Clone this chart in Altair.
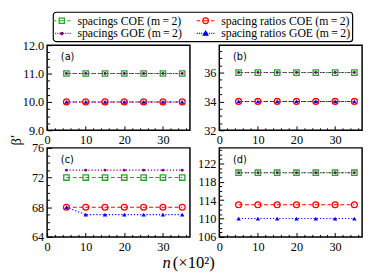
import altair as alt
import numpy as np
import pandas as pd

SERIES = ["spacings COE (m\u2009=\u20092)", "spacing ratios COE (m\u2009=\u20092)",
          "spacings GOE (m\u2009=\u20092)", "spacing ratios GOE (m\u2009=\u20092)"]
COLORS = ["#2ca02c", "#ff0000", "#800080", "#0000ff"]
FILLS = ["transparent", "transparent", "#800080", "#0000ff"]
N = [5, 10, 15, 20, 25, 30, 35]
PANELS = ["(a)", "(b)", "(c)", "(d)"]

# panel (a)
A_SP_COE = [11, 11, 11, 11, 11, 11, 11]
A_SR_COE = [10, 10, 10, 10, 10, 10, 10]
A_SP_GOE = [11, 11, 11, 11, 11, 11, 11]
A_SR_GOE = [10, 10, 10, 10, 10, 10, 10]
# panel (b)
B_SP_COE = [36, 36, 36, 36, 36, 36, 36]
B_SR_COE = [34, 34, 34, 34, 34, 34, 34]
B_SP_GOE = [36, 36, 36, 36, 36, 36, 36]
B_SR_GOE = [34, 34, 34, 34, 34, 34, 34]
# panel (c)
C_SP_COE = [72, 72, 72, 72, 72, 72, 72]
C_SR_COE = [68, 68, 68, 68, 68, 68, 68]
C_SP_GOE = [73, 73, 73, 73, 73, 73, 73]
C_SR_GOE = [68, 67, 67, 67, 67, 67, 67]
# panel (d)
D_SP_COE = [120, 120, 120, 120, 120, 120, 120]
D_SR_COE = [113, 113, 113, 113, 113, 113, 113]
D_SP_GOE = [120, 120, 120, 120, 120, 120, 120]
D_SR_GOE = [110, 110, 110, 110, 110, 110, 110]

VALUES = {
    "(a)": [A_SP_COE, A_SR_COE, A_SP_GOE, A_SR_GOE],
    "(b)": [B_SP_COE, B_SR_COE, B_SP_GOE, B_SR_GOE],
    "(c)": [C_SP_COE, C_SR_COE, C_SP_GOE, C_SR_GOE],
    "(d)": [D_SP_COE, D_SR_COE, D_SP_GOE, D_SR_GOE],
}

Y_DOMAINS = [[9, 12], [32, 37.9], [64, 76], [106, 125.4]]
Y_MAJOR = [[9, 10, 11, 12], [32, 34, 36], [64, 68, 72, 76], [106, 110, 114, 118, 122]]
Y_MINOR = [0.25, 0.5, 1, 1]
Y_FMT = [".1f", "d", "d", "d"]
X_DOMAIN = [0, 37]
X_MAJOR = [0, 10, 20, 30]
X_MINOR = 2

rows = []
for p in PANELS:
    for s, vals in zip(SERIES, VALUES[p]):
        for n, v in zip(N, vals):
            rows.append({"panel": p, "series": s, "n": n, "beta": v})
df = pd.DataFrame(rows)

STYLE = {
    SERIES[0]: dict(dash=[4, 2.5], shape="square", size=30, filled=False),
    SERIES[1]: dict(dash=[4, 2.5], shape="circle", size=36, filled=False),
    SERIES[2]: dict(dash=[1.2, 2], shape="circle", size=9, filled=True),
    SERIES[3]: dict(dash=[1.2, 2], shape="triangle-up", size=20, filled=True),
}

# legend symbols (unit = 6 px; paths reach beyond +-1 to be ~18 px wide)
DASH = "M-1.5,0H-0.95M-0.45,0H0.45M0.95,0H1.5"
DOTS = ("M-1.5,0H-1.33M-1.13,0H-0.96M-0.76,0H-0.59M-0.39,0H-0.28"
        "M0.28,0H0.39M0.59,0H0.76M0.96,0H1.13M1.33,0H1.5")
PATHS = [
    DASH + "M-0.45,-0.45H0.45V0.45H-0.45Z",
    DASH + "M0.48,0A0.48,0.48 0 1 1 -0.48,0A0.48,0.48 0 1 1 0.48,0Z",
    DOTS + "M0.2,0A0.2,0.2 0 1 1 -0.2,0A0.2,0.2 0 1 1 0.2,0Z",
    DOTS + "M0,-0.4L0.4,0.3L-0.4,0.3Z",
]
LEG_ORDER = [0, 2, 1, 3]  # legend fills its columns top to bottom
LEG_DOMAIN = [SERIES[k] for k in LEG_ORDER]

HEIGHTS = [87, 87, 91, 91]
WIDTH = 146


def tick_size(test):
    return {"condition": {"test": test, "value": -4.5}, "value": -2.5}


def x_axis(i):
    vals = list(range(0, 37, X_MINOR))
    test = f"indexof({X_MAJOR}, datum.value) >= 0"
    kw = dict(values=vals, labelExpr=f"{test} ? format(datum.value, 'd') : ''",
              tickSize=tick_size(test), labelPadding=8, labelFlush=False,
              labelOverlap=False, domain=False, grid=False)
    if i == 2:
        kw.update(title="n", titleFontStyle="italic", titleX=126, titleY=18,
                  titleAlign="right", titleBaseline="top", titleFontSize=17)
    elif i == 3:
        kw.update(title="(×10²)", titleX=-48, titleY=18,
                  titleAlign="left", titleBaseline="top", titleFontSize=17)
    else:
        kw.update(title=None)
    return alt.Axis(**kw)


def y_axis(i):
    lo = Y_DOMAINS[i][0]
    vals = [float(v) for v in np.arange(lo, Y_DOMAINS[i][1] + 1e-9, Y_MINOR[i])]
    test = f"indexof({Y_MAJOR[i]}, datum.value) >= 0"
    kw = dict(values=vals, labelExpr=f"{test} ? format(datum.value, '{Y_FMT[i]}') : ''",
              tickSize=tick_size(test), labelPadding=8, labelFlush=False,
              labelOverlap=False, domain=False, grid=False)
    if i == 0:
        kw.update(title="β′", titleX=-24, titleY=96.5, titleAngle=-90,
                  titleAlign="center", titleBaseline="bottom", titleFontSize=15)
    else:
        kw.update(title=None)
    return alt.Axis(**kw)


legend_layer = alt.Chart(pd.DataFrame({"series": SERIES})).mark_point(
    size=144, opacity=1, strokeWidth=1.2
).encode(
    shape=alt.Shape("series:N", scale=alt.Scale(domain=LEG_DOMAIN, range=[PATHS[k] for k in LEG_ORDER]),
                    legend=alt.Legend(title=None)),
    stroke=alt.Stroke("series:N", scale=alt.Scale(domain=LEG_DOMAIN, range=[COLORS[k] for k in LEG_ORDER]),
                      legend=alt.Legend(title=None)),
    fill=alt.Fill("series:N", scale=alt.Scale(domain=LEG_DOMAIN, range=[FILLS[k] for k in LEG_ORDER]),
                  legend=alt.Legend(title=None)),
).transform_filter("false")


def make_panel(i):
    p = PANELS[i]
    d = df[df.panel == p]
    xenc = alt.X("n:Q", scale=alt.Scale(domain=X_DOMAIN, nice=False, zero=False), axis=x_axis(i))
    yenc = alt.Y("beta:Q", scale=alt.Scale(domain=Y_DOMAINS[i], nice=False, zero=False), axis=y_axis(i))
    layers = []
    for s, c in zip(SERIES, COLORS):
        st = STYLE[s]
        layers.append(alt.Chart(d[d.series == s]).mark_line(
            color=c, strokeDash=st["dash"], strokeWidth=1.1).encode(x=xenc, y=yenc))
    for s, c in zip(SERIES, COLORS):
        st = STYLE[s]
        layers.append(alt.Chart(d[d.series == s]).mark_point(
            shape=st["shape"], size=st["size"], filled=st["filled"], color=c,
            strokeWidth=1.3, opacity=1).encode(x=xenc, y=yenc))
    layers.append(alt.Chart(pd.DataFrame({"t": [p]})).mark_text(
        align="left", baseline="middle", font="DejaVu Sans", fontSize=10, color="black"
    ).encode(x=alt.value(14), y=alt.value(12), text="t:N"))
    if i == 0:
        layers.append(legend_layer)
    return alt.layer(*layers).properties(width=WIDTH, height=HEIGHTS[i])


chart = alt.concat(
    *[make_panel(i) for i in range(4)], columns=2,
    spacing={"row": 18, "column": 30}, bounds="flush"
).properties(
    padding={"left": 0, "top": 0, "right": 4, "bottom": 4}
).configure_view(
    stroke="black", strokeWidth=1.5
).configure_axis(
    labelFont="Liberation Serif", labelFontSize=12.5, labelColor="black",
    titleFont="Liberation Serif", titleFontWeight="normal", titleColor="black",
    tickColor="black", tickWidth=1
).configure_legend(
    orient="none", legendX=6, legendY=-34, columns=2,
    labelFont="Liberation Serif", labelFontSize=12, labelColor="black",
    symbolSize=144, symbolStrokeWidth=1.2, labelOffset=9,
    strokeColor="black", strokeWidth=1.2, fillColor="white", cornerRadius=3,
    padding=2, columnPadding=12, rowPadding=0, labelLimit=0
)

chart.save("out.html", embed_options={"renderer": "svg", "actions": False})
